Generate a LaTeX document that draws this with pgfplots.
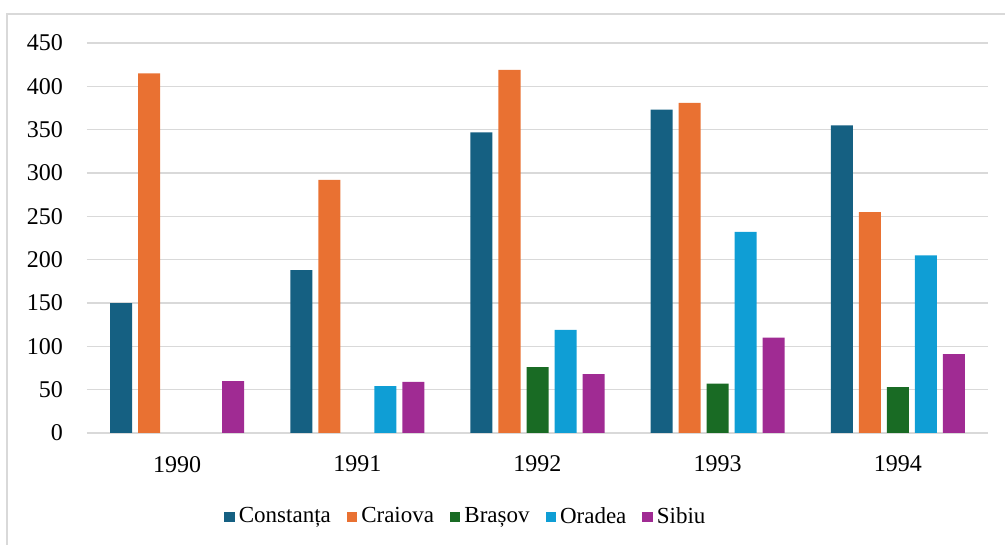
\documentclass[border=0pt]{standalone}
\usepackage{fontspec}
\setmainfont{Liberation Serif}
\usepackage{pgfplots}
\pgfplotsset{compat=1.18}
\definecolor{cConst}{HTML}{156082}
\definecolor{cCraiova}{HTML}{E97132}
\definecolor{cBrasov}{HTML}{196B24}
\definecolor{cOradea}{HTML}{0F9ED5}
\definecolor{cSibiu}{HTML}{A02B93}
\definecolor{gridgray}{RGB}{217,217,217}
\begin{document}
\begin{tikzpicture}
\useasboundingbox (-43.5pt,-56pt) rectangle (459pt,216.5pt);
\draw[color=gridgray, line width=0.75pt] (-40pt,-80pt) -- (-40pt,209.5pt) -- (480pt,209.5pt);
\begin{axis}[
  at={(0,0)}, anchor=south west,
  scale only axis, width=450.5pt, height=195pt,
  ybar=3pt, bar width=11pt,
  xmin=-0.5, xmax=4.5, ymin=0, ymax=450,
  ytick={0,50,...,450},
  xtick={0,1,2,3,4},
  xticklabels={1990,1991,1992,1993,1994},
  axis line style={draw=none},
  major tick length=0pt,
  ymajorgrids,
  grid style={color=gridgray, line width=0.75pt},
  tick label style={font=\rmfamily\fontsize{12}{14}\selectfont},
  /pgf/number format/assume math mode=true,
  yticklabel style={xshift=-8.5pt},
  xticklabel style={yshift=-8pt},
  legend style={at={(0.4217,-0.215)}, anchor=center, legend columns=5, draw=none,
    font=\rmfamily\fontsize{11.5}{13}\selectfont,
    /tikz/every even column/.append style={column sep=6pt}},
  legend image code/.code={\fill[#1] (0pt,-2.6pt) rectangle (5.2pt,2.6pt);},
  every axis plot/.append style={draw=none},
]
\addplot[fill=cConst] coordinates {(0,150) (1,188) (2,347) (3,373) (4,355)};
\addplot[fill=cCraiova] coordinates {(0,415) (1,292) (2,419) (3,381) (4,255)};
\addplot[fill=cBrasov] coordinates {(2,76) (3,57) (4,53)};
\addplot[fill=cOradea] coordinates {(1,54) (2,119) (3,232) (4,205)};
\addplot[fill=cSibiu] coordinates {(0,60) (1,59) (2,68) (3,110) (4,91)};
\legend{Constanța,Craiova,Brașov,Oradea,Sibiu}
\end{axis}
\end{tikzpicture}
\end{document}
